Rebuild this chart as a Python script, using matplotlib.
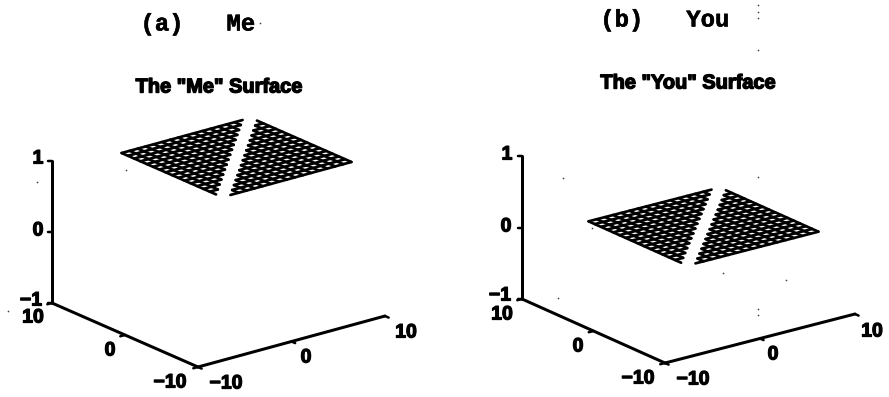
"""
Two 3-D surface panels from a scanned figure, drawn on one flat pixel-scaled axes.
"""
import matplotlib
matplotlib.use("Agg")
import matplotlib.pyplot as plt
import matplotlib.patheffects as pe

# Data
grid_values = [-10, -8.75, -7.5, -6.25, -5, -3.75, -2.5, -1.25, 0,
               1.25, 2.5, 3.75, 5, 6.25, 7.5, 8.75, 10]
gap_width = 1.25
me_level = 1
you_level = 0
z_ticks = [-1, 0, 1]
xy_ticks = [-10, 0, 10]
z_labels = ["\u22121", "0", "1"]
xy_labels = ["\u221210", "0", "10"]
headings = ["(a)   Me", "(b)   You"]
titles = ['The "Me" Surface', 'The "You" Surface']

# Scan specks
speck_x = [126, 8, 37, 260, 563, 558, 592, 758, 758, 786, 723, 758, 758, 758, 758, 758]
speck_y = [170, 311, 182, 23, 178, 298, 228, 309, 315, 280, 273, 177, 5, 12, 18, 50]

# Layout of the two panels, in pixels
me_panel = dict(corner=(198, 367), xvec=(187, -51), yvec=(-146, -64), zvec=(0, -142),
                shift=(18, -10), level=me_level, heading=(198, 24), title=(219, 87),
                z_pos=[(31, 301), (38, 231), (38, 159)],
                y_pos=[(170, 383), (110, 351), (33, 318)],
                x_pos=[(226, 384), (306, 358), (406, 333)])
you_panel = dict(corner=(665, 363), xvec=(190, -49), yvec=(-143, -64), zvec=(0, -143),
                 shift=(15, -8.5), level=you_level, heading=(665, 20), title=(688, 83),
                 z_pos=[(500, 296), (506, 227), (507, 155)],
                 y_pos=[(638, 379), (578, 347), (502, 315)],
                 x_pos=[(693, 380), (773, 355), (872, 332)])
surface_scale = 0.69
px = 0.72  # one pixel in points at dpi 100


def blur(width):
    return [pe.withStroke(linewidth=width, foreground="black")]


fig = plt.figure(figsize=(8.89, 3.97), dpi=100)
ax = fig.add_axes([0, 0, 1, 1])
ax.set_xlim(0, 889)
ax.set_ylim(397, 0)
ax.axis("off")


def project(panel, x, y, z):
    """ Map data x, y, z onto the picture through the panel's axis vectors. """
    fx, fy, fz = (x + 10) / 20, (y + 10) / 20, (z + 1) / 2
    return (panel["corner"][0] + fx * panel["xvec"][0] + fy * panel["yvec"][0] + fz * panel["zvec"][0],
            panel["corner"][1] + fx * panel["xvec"][1] + fy * panel["yvec"][1] + fz * panel["zvec"][1])


def surface_point(panel, x, y):
    sx, sy = project(panel, surface_scale * x, surface_scale * y, panel["level"])
    return sx + panel["shift"][0], sy + panel["shift"][1]


def draw_segment(p0, p1, width):
    ax.plot([p0[0], p1[0]], [p0[1], p1[1]], color="black", lw=width * px,
            solid_capstyle="round")


def draw_surface(panel):
    # two triangular halves of the grid, split along the x = y diagonal
    for sign in (1, -1):
        for fixed in grid_values:
            along_x = [v for v in grid_values if sign * (fixed - v) >= gap_width]
            along_y = [v for v in grid_values if sign * (v - fixed) >= gap_width]
            if along_x:
                draw_segment(surface_point(panel, along_x[0], fixed),
                             surface_point(panel, along_x[-1], fixed), 2.7)
            if along_y:
                draw_segment(surface_point(panel, fixed, along_y[0]),
                             surface_point(panel, fixed, along_y[-1]), 2.7)


def draw_label(pos, label):
    ax.text(pos[0], pos[1], label, ha="center", va="center", fontsize=14,
            family="Liberation Sans", weight="bold", path_effects=blur(0.9))


def draw_panel(panel):
    # axis lines
    draw_segment(project(panel, -10, -10, -1), project(panel, 10, -10, -1), 3)
    draw_segment(project(panel, -10, -10, -1), project(panel, -10, 10, -1), 3)
    draw_segment(project(panel, -10, 10, -1), project(panel, -10, 10, 1), 3)

    # ticks, labels
    for z, label, pos in zip(z_ticks, z_labels, panel["z_pos"]):
        p = project(panel, -10, 10, z)
        draw_segment(p, (p[0] - 4, p[1]), 2.5)
        draw_label(pos, label)
    for t, label, pos in zip(xy_ticks, xy_labels, panel["x_pos"]):
        draw_segment(project(panel, t, -10, -1), project(panel, t, -10.5, -1), 2.5)
        draw_label(pos, label)
    for t, label, pos in zip(xy_ticks, xy_labels, panel["y_pos"]):
        draw_segment(project(panel, -10, t, -1), project(panel, -10.5, t, -1), 2.5)
        draw_label(pos, label)

    draw_surface(panel)


for panel, heading, title in zip([me_panel, you_panel], headings, titles):
    draw_panel(panel)
    ax.text(panel["heading"][0], panel["heading"][1], heading, ha="center", va="center",
            fontsize=17.2, family="Liberation Mono", weight="bold", path_effects=blur(0.4))
    ax.text(panel["title"][0], panel["title"][1], title, ha="center", va="center",
            fontsize=14.4, family="Liberation Sans", weight="bold", path_effects=blur(1.0))

ax.scatter(speck_x, speck_y, s=1.5, color="#444444", linewidths=0)

fig.savefig("out.png", dpi=100)
